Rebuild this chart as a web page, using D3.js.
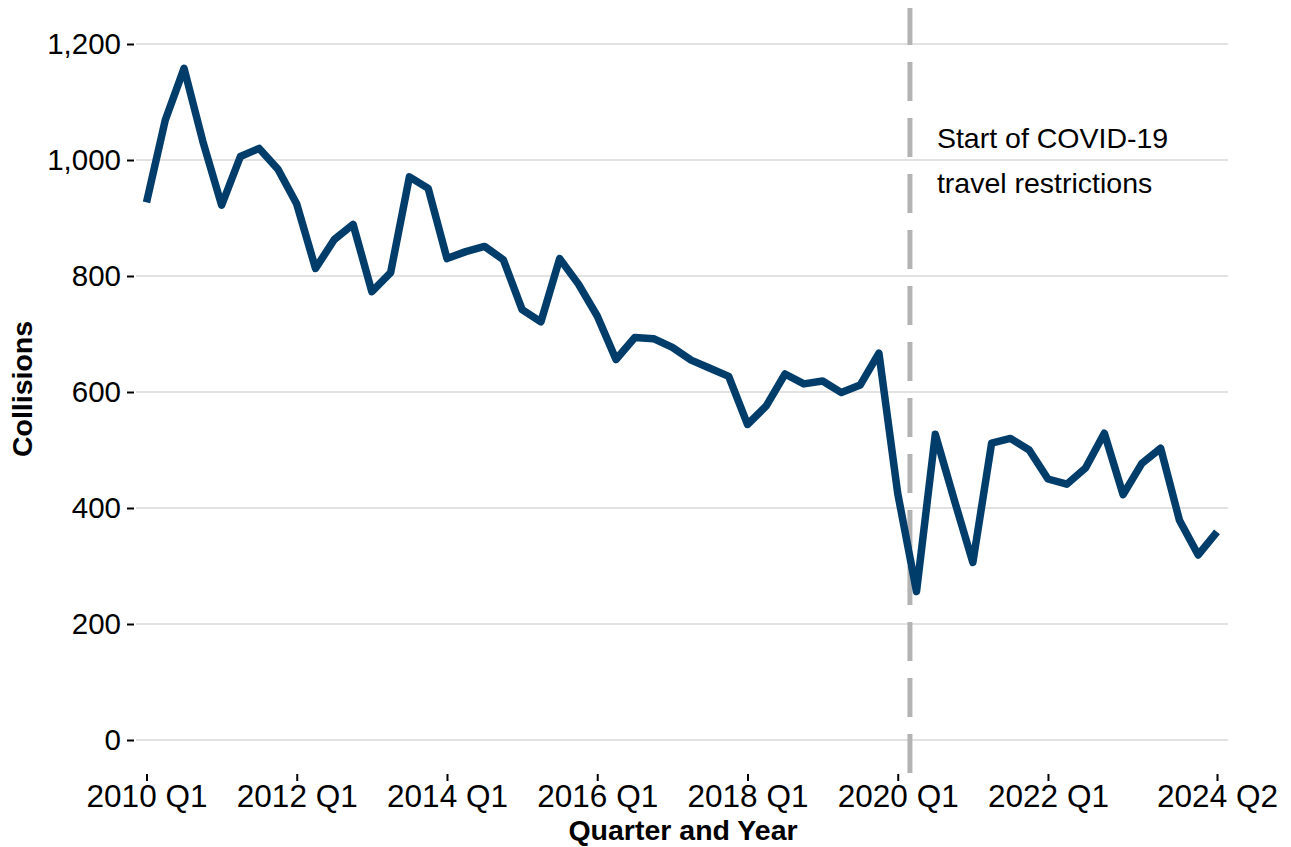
<!DOCTYPE html>
<html>
<head>
<meta charset="utf-8">
<script src="https://cdn.jsdelivr.net/npm/d3@7"></script>
<style>
  html, body { margin: 0; padding: 0; background: #ffffff; }
  svg { display: block; font-family: "Liberation Sans", Arial, Helvetica, sans-serif; }
</style>
</head>
<body>
<svg id="chart" width="1291" height="847"></svg>
<script>
const quarters = [
  "2010 Q1","2010 Q2","2010 Q3","2010 Q4",
  "2011 Q1","2011 Q2","2011 Q3","2011 Q4",
  "2012 Q1","2012 Q2","2012 Q3","2012 Q4",
  "2013 Q1","2013 Q2","2013 Q3","2013 Q4",
  "2014 Q1","2014 Q2","2014 Q3","2014 Q4",
  "2015 Q1","2015 Q2","2015 Q3","2015 Q4",
  "2016 Q1","2016 Q2","2016 Q3","2016 Q4",
  "2017 Q1","2017 Q2","2017 Q3","2017 Q4",
  "2018 Q1","2018 Q2","2018 Q3","2018 Q4",
  "2019 Q1","2019 Q2","2019 Q3","2019 Q4",
  "2020 Q1","2020 Q2","2020 Q3","2020 Q4",
  "2021 Q1","2021 Q2","2021 Q3","2021 Q4",
  "2022 Q1","2022 Q2","2022 Q3","2022 Q4",
  "2023 Q1","2023 Q2","2023 Q3","2023 Q4",
  "2024 Q1","2024 Q2"
];
const collisions = [
  927, 1069, 1158, 1032,
  922, 1006, 1020, 984,
  924, 813, 863, 889,
  773, 806, 971, 951,
  830, 842, 851, 828,
  742, 721, 830, 786,
  731, 656, 694, 692,
  677, 655, 641, 627,
  544, 576, 631, 614,
  619, 599, 612, 667,
  425, 256, 527, 415,
  306, 512, 520, 500,
  450, 441, 469, 529,
  423, 477, 503, 379,
  319, 359
];
const xTickLabels = ["2010 Q1","2012 Q1","2014 Q1","2016 Q1","2018 Q1","2020 Q1","2022 Q1","2024 Q2"];
const yTicks = [0, 200, 400, 600, 800, 1000, 1200];
const covidQuarter = "2020 Q1";
const covidStepFraction = 0.65;
const annotationLines = ["Start of COVID-19", "travel restrictions"];
const xTitle = "Quarter and Year";
const yTitle = "Collisions";

const svg = d3.select("#chart");
const panel = { left: 136, right: 1228, top: 8, bottom: 773 };

const x = d3.scalePoint().domain(quarters).range([146.5, 1217]);
const y = d3.scaleLinear().domain([0, 1200]).range([740, 44]);

// gridlines
svg.append("g").selectAll("line").data(yTicks).join("line")
  .attr("x1", panel.left).attr("x2", panel.right)
  .attr("y1", d => y(d)).attr("y2", d => y(d))
  .attr("stroke", "#d9d9d9").attr("stroke-width", 1.3);

// y axis
const yAxis = d3.axisLeft(y).tickValues(yTicks).tickSize(7).tickPadding(6)
  .tickFormat(d3.format(","));
const gy = svg.append("g").attr("transform", `translate(${panel.left - 2},0)`).call(yAxis);
gy.select(".domain").remove();
gy.selectAll(".tick line").attr("stroke", "#000").attr("stroke-width", 2);
gy.selectAll(".tick text").attr("font-size", 29.5).attr("fill", "#000")
  .attr("font-family", "'Liberation Sans', Arial, sans-serif");

// x axis
const xAxis = d3.axisBottom(x).tickValues(xTickLabels).tickSize(7).tickPadding(4);
const gx = svg.append("g").attr("transform", `translate(0,${panel.bottom + 1})`).call(xAxis);
gx.select(".domain").remove();
gx.selectAll(".tick line").attr("stroke", "#000").attr("stroke-width", 2);
gx.selectAll(".tick text").attr("font-size", 31.5).attr("fill", "#000")
  .attr("font-family", "'Liberation Sans', Arial, sans-serif");

// covid line
const covidX = x(covidQuarter) + x.step() * covidStepFraction;
svg.append("line")
  .attr("x1", covidX).attr("x2", covidX)
  .attr("y1", panel.bottom).attr("y2", panel.top)
  .attr("stroke", "#b3b3b3").attr("stroke-width", 5)
  .attr("stroke-dasharray", "39,17");

// data line
const line = d3.line().x((d, i) => x(quarters[i])).y(d => y(d));
svg.append("path").datum(collisions)
  .attr("d", line)
  .attr("fill", "none")
  .attr("stroke", "#003d6b")
  .attr("stroke-width", 7.5)
  .attr("stroke-linejoin", "round")
  .attr("stroke-linecap", "butt");

// annotation
svg.append("g").selectAll("text").data(annotationLines).join("text")
  .attr("x", covidX + 27)
  .attr("y", (d, i) => 148 + i * 45)
  .attr("font-size", 28.5)
  .attr("fill", "#000")
  .text(d => d);

// titles
svg.append("text")
  .attr("x", 683)
  .attr("y", 840)
  .attr("text-anchor", "middle")
  .attr("font-size", 28.5).attr("font-weight", "bold")
  .text(xTitle);

svg.append("text")
  .attr("transform", `translate(32,${(y(0) + y(1200)) / 2 - 3}) rotate(-90)`)
  .attr("text-anchor", "middle")
  .attr("font-size", 28.5).attr("font-weight", "bold")
  .text(yTitle);
</script>
</body>
</html>
